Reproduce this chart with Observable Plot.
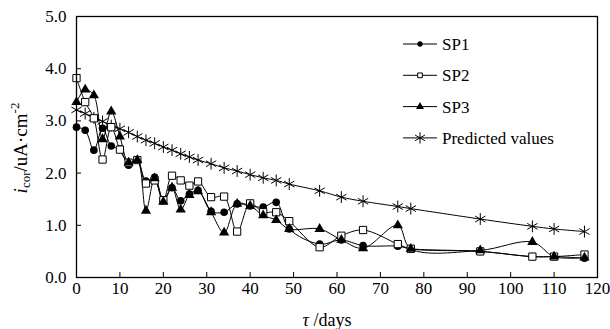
<!DOCTYPE html>
<html><head><meta charset="utf-8">
<script src="https://cdn.jsdelivr.net/npm/d3@7"></script>
<script src="https://cdn.jsdelivr.net/npm/@observablehq/plot@0.6"></script>
<style>
body{margin:0;background:#fff;}
#wrap{position:relative;width:610px;height:329px;font-family:"Liberation Serif","Times New Roman",serif;color:#000;}
#wrap svg, #wrap svg text{font-family:"Liberation Serif","Times New Roman",serif !important;}
.ov{position:absolute;white-space:nowrap;}
</style></head><body><div id="wrap"></div>
<script>
const days = [0,2,4,6,8,10,12,14,16,18,20,22,24,26,28,31,34,37,40,43,46,49,56,61,66,74,77,93,105,110,117];
const sp1 = [2.88,2.82,2.44,2.86,2.52,2.46,2.15,2.25,1.85,1.92,1.49,1.72,1.47,1.60,1.67,1.27,1.25,1.41,1.37,1.35,1.44,0.93,0.64,0.72,0.61,0.60,0.55,0.50,0.40,0.40,0.37];
const sp2 = [3.82,3.36,3.05,2.26,2.88,2.45,2.20,2.25,1.80,1.86,1.48,1.95,1.86,1.76,1.84,1.54,1.55,0.88,1.42,1.25,1.25,1.08,0.58,0.80,0.91,0.64,0.55,0.50,0.40,0.40,0.44];
const sp3 = [3.36,3.60,3.49,2.65,3.18,2.70,2.20,2.25,1.28,1.90,1.45,1.72,1.30,1.58,1.65,1.25,0.86,1.41,1.37,1.19,1.10,0.93,0.93,0.72,0.56,1.00,0.55,0.52,0.68,0.40,0.38];
const predicted = [3.21,3.14,3.06,2.99,2.91,2.85,2.78,2.70,2.63,2.57,2.50,2.44,2.37,2.31,2.25,2.18,2.10,2.04,1.97,1.91,1.86,1.79,1.66,1.54,1.46,1.36,1.32,1.12,0.98,0.93,0.88];
const xTicks = [0,10,20,30,40,50,60,70,80,90,100,110,120];
const yTicks = [0,1,2,3,4,5];
const seriesNames = ["SP1","SP2","SP3","Predicted values"];

const series = [sp1, sp2, sp3, predicted];
const rows = series.flatMap((vals, k) => days.map((d, i) => ({day: d, v: vals[i], s: seriesNames[k]})));
const sel = name => rows.filter(r => r.s === name);

const lineOpts = {x: "day", y: "v", stroke: "#000", strokeWidth: 1, curve: "catmull-rom"};
const chart = Plot.plot({
  width: 610, height: 329,
  marginLeft: 76, marginRight: 13, marginTop: 16, marginBottom: 52,
  style: {fontFamily: "Liberation Serif, Times New Roman, serif", fontSize: "16px", background: "#fff", color: "#000"},
  x: {domain: [0, 120]},
  y: {domain: [0, 5]},
  marks: [
    Plot.line(sel("Predicted values"), lineOpts),
    Plot.line(sel("SP1"), lineOpts),
    Plot.line(sel("SP2"), lineOpts),
    Plot.line(sel("SP3"), lineOpts),
    Plot.dot(sel("Predicted values"), {x: "day", y: "v", symbol: "asterisk", r: 5.6, stroke: "#000", strokeWidth: 1}),
    Plot.dot(sel("SP1"), {x: "day", y: "v", symbol: "circle", r: 3.8, fill: "#000", stroke: "none"}),
    Plot.dot(sel("SP2"), {x: "day", y: "v", symbol: "square", r: 4.1, fill: "#fff", stroke: "#000", strokeWidth: 1}),
    Plot.dot(sel("SP3"), {x: "day", y: "v", symbol: "triangle", r: 3.8, fill: "#000", stroke: "none"}),
    Plot.axisX({ticks: xTicks, tickSize: 0, tickPadding: 4, fontSize: 17, tickFormat: d => String(d), label: null}),
    Plot.axisX({ticks: xTicks, tickSize: 5, dy: -5, text: null, label: null, stroke: "#000"}),
    Plot.axisY({ticks: yTicks, tickSize: 0, tickPadding: 10, fontSize: 17, tickFormat: d => d.toFixed(1), label: null}),
    Plot.axisY({ticks: yTicks, tickSize: 5, dx: 5, text: null, label: null, stroke: "#000"}),
    Plot.frame({stroke: "#000", strokeWidth: 1.3})
  ]
});
const wrap = document.getElementById("wrap");
wrap.appendChild(chart);

// axis titles
const yt = document.createElement("div");
yt.className = "ov";
yt.style.cssText = "left:20px;top:148px;font-size:19px;transform:translate(-50%,-50%) rotate(-90deg);line-height:1;";
yt.innerHTML = '<i>i</i><sub style="font-size:13px;vertical-align:-3px">cor</sub>/uA·cm<sup style="font-size:13px;vertical-align:8px">-2</sup>';
wrap.appendChild(yt);
const xt = document.createElement("div");
xt.className = "ov";
xt.style.cssText = "left:327px;top:320px;font-size:18px;transform:translate(-50%,-50%);line-height:1;";
xt.innerHTML = '<i>τ</i> /days';
wrap.appendChild(xt);

// legend
const legSvg = d3.select(wrap).append("svg")
  .attr("width", 200).attr("height", 130)
  .style("position", "absolute").style("left", "400px").style("top", "28px");
const legSym = [
  {sym: d3.symbolCircle, size: 22, fill: "#000", stroke: "none"},
  {sym: d3.symbolSquare, size: 22, fill: "#fff", stroke: "#000"},
  {sym: d3.symbolTriangle, size: 28, fill: "#000", stroke: "none"},
  {sym: d3.symbolAsterisk, size: 90, fill: "none", stroke: "#000"}
];
seriesNames.forEach((name, i) => {
  const y = 16 + i * 31.3;
  const g = legSvg.append("g").attr("transform", `translate(0,${y})`);
  g.append("line").attr("x1", 3).attr("x2", 37).attr("y1", 0).attr("y2", 0).attr("stroke", "#000").attr("stroke-width", 1);
  g.append("path").attr("d", d3.symbol(legSym[i].sym, legSym[i].size)()).attr("transform", "translate(20,0)")
    .attr("fill", legSym[i].fill).attr("stroke", legSym[i].stroke).attr("stroke-width", 1);
  g.append("text").attr("x", 42).attr("y", 0).attr("dy", "0.35em").attr("font-size", 17).text(name);
});
</script></body></html>
